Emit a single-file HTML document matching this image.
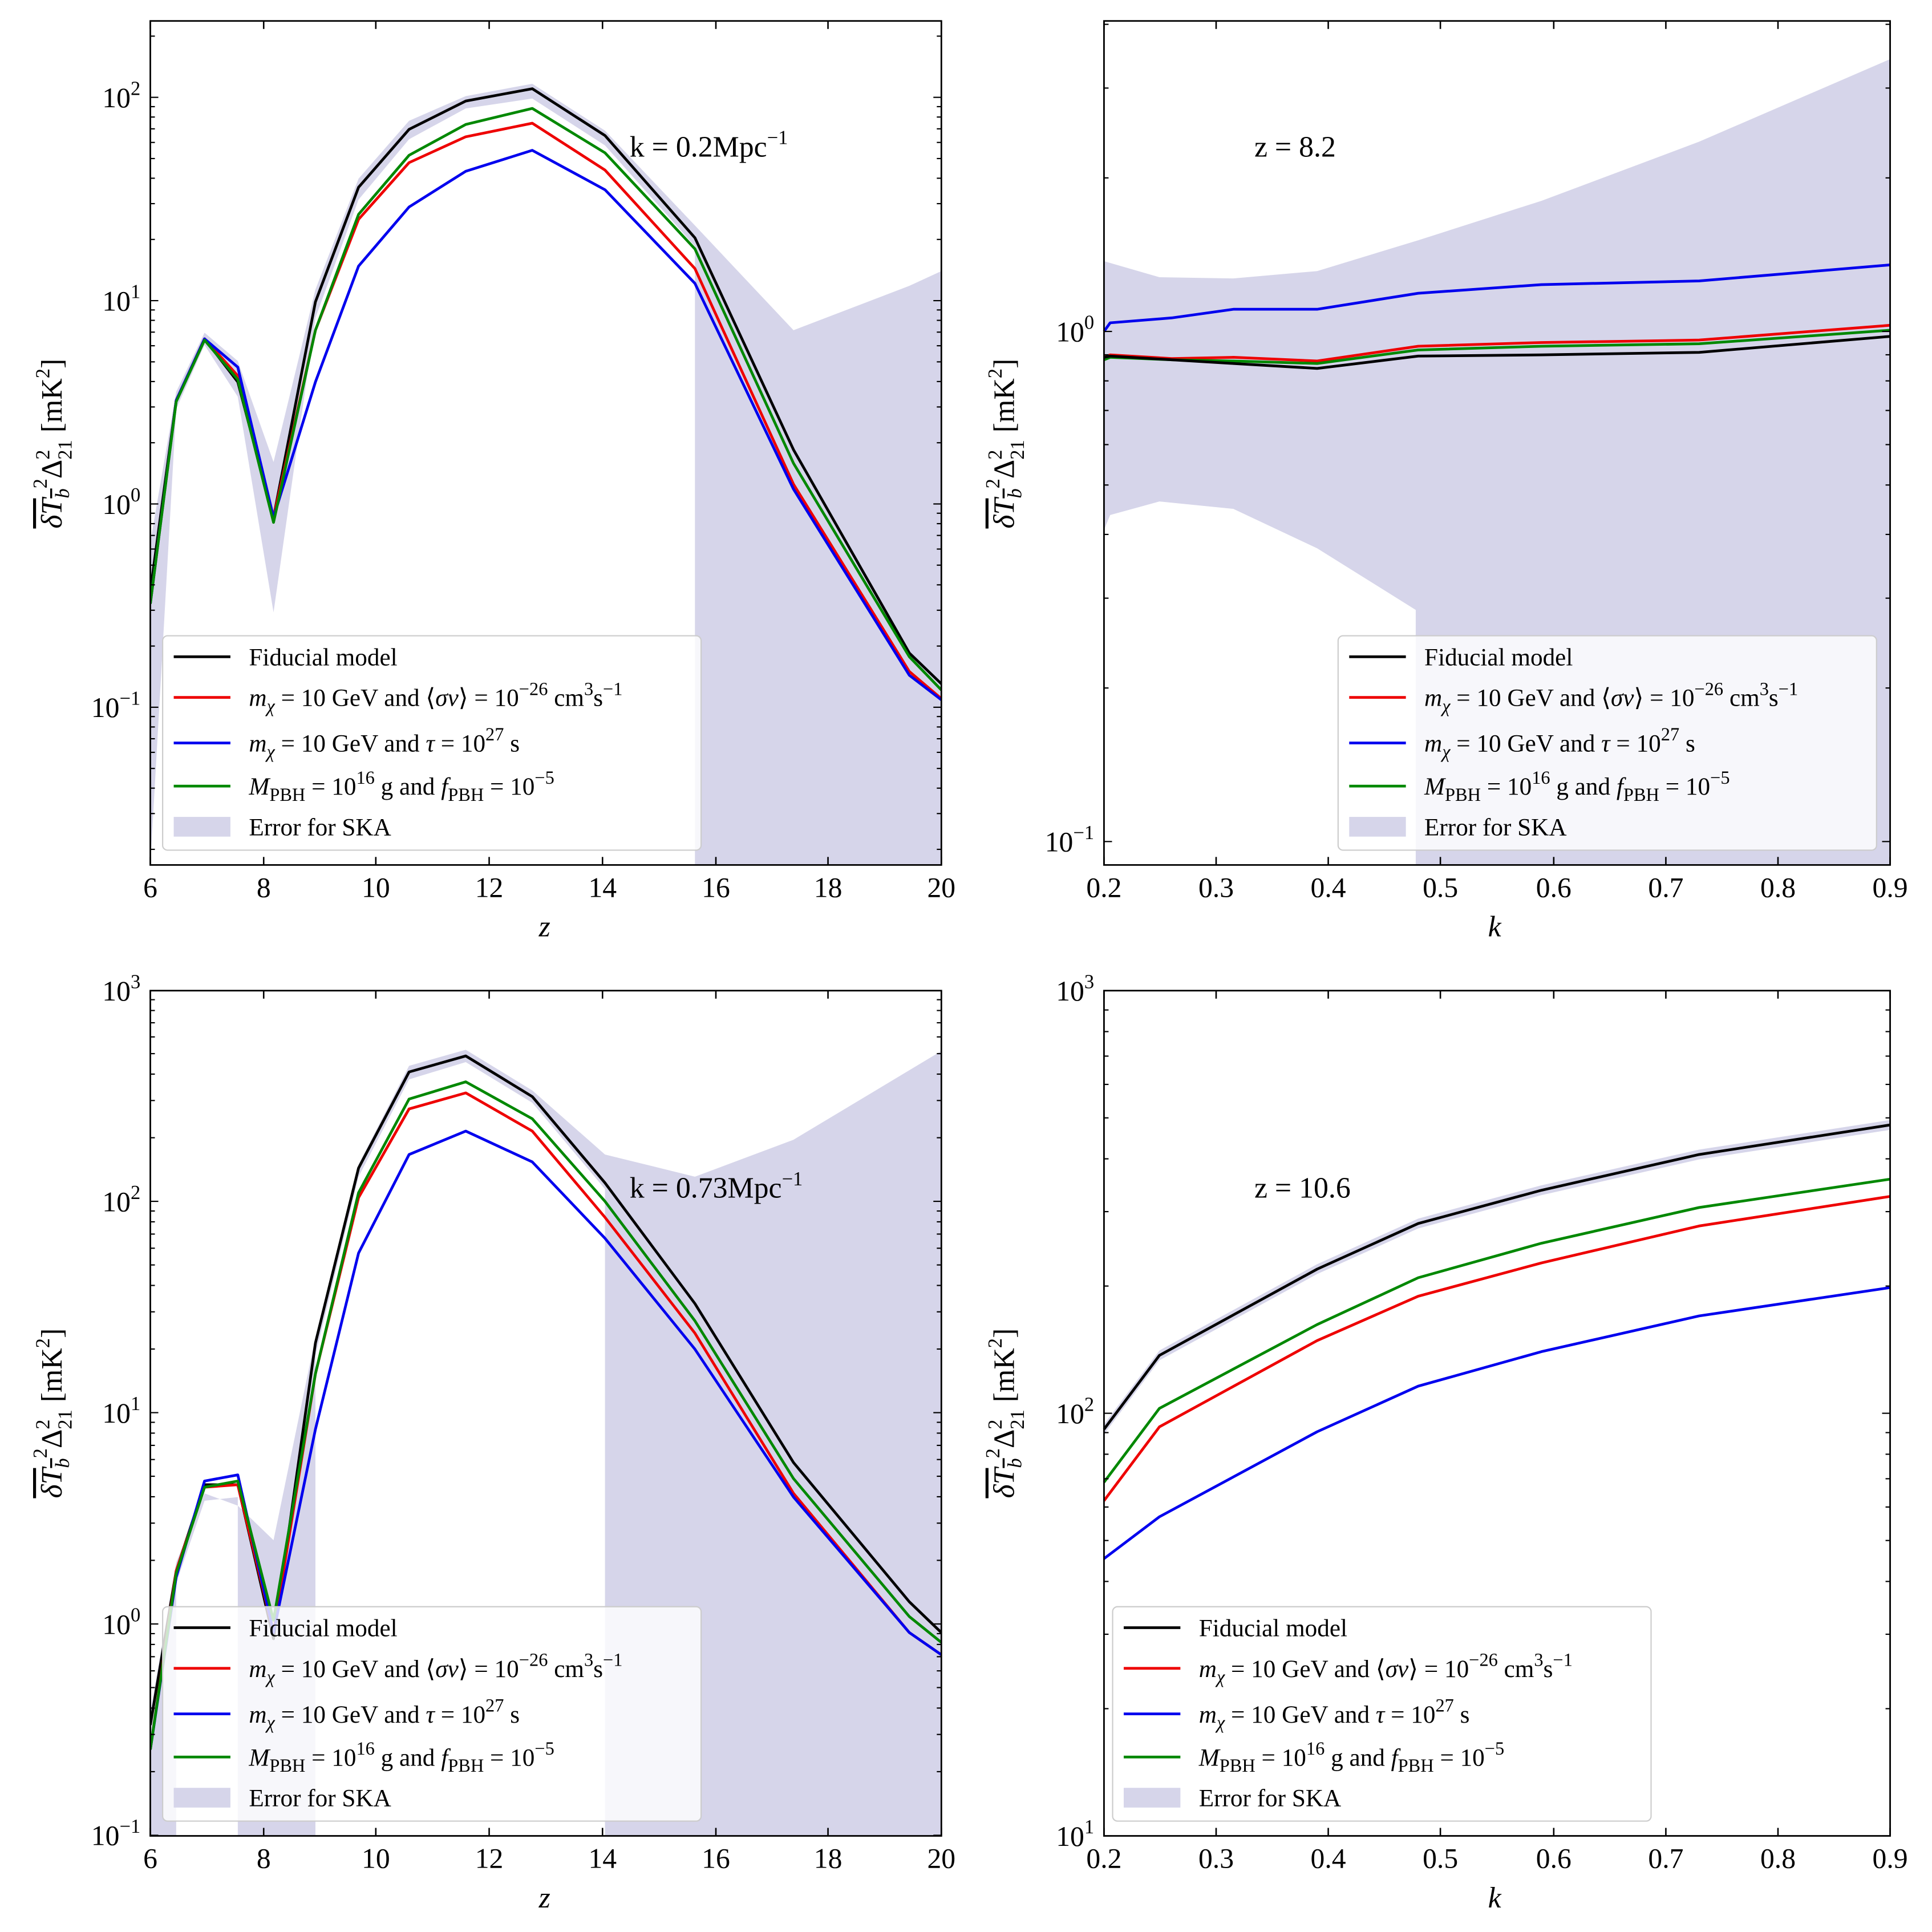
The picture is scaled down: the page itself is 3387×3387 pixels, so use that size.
<!DOCTYPE html>
<html><head><meta charset="utf-8"><style>
html,body{margin:0;padding:0;background:#fff}
svg{display:block}
text{font-family:"Liberation Serif","DejaVu Serif",serif;fill:#000}
</style></head><body>
<svg id="s" xmlns="http://www.w3.org/2000/svg" width="3387" height="3387" viewBox="0 0 1568 1568"></svg>
<script>
const S=document.getElementById('s');let h='';
function pl(pts,c,w){return `<polyline points="${pts.map(p=>p.join(',')).join(' ')}" fill="none" stroke="${c}" stroke-width="${w}" stroke-linejoin="round"/>`;}
function pg(pts){return `<polygon points="${pts.map(p=>p.join(',')).join(' ')}" fill="#d6d5ea" stroke="none"/>`;}
function panel(x0,y0,x1,y1,xt,yt,ylog){
 let o='';
 xt.forEach(t=>{o+=`<line x1="${t[0]}" y1="${y1}" x2="${t[0]}" y2="${y1-6.5}" stroke="#000" stroke-width="1.2"/><line x1="${t[0]}" y1="${y0}" x2="${t[0]}" y2="${y0+6.5}" stroke="#000" stroke-width="1.2"/>`;
  o+=`<text x="${t[0]}" y="${y1+26}" font-size="23" text-anchor="middle">${t[1]}</text>`;});
 const pd=ylog.pd, ref=ylog.ref, refExp=ylog.exp;
 for(let e=-4;e<5;e++){for(let m=1;m<10;m++){let py=ref-(e-refExp+Math.log10(m))*pd; if(py<y0-1.5||py>y1+1.5)continue;
  py=Math.min(Math.max(py,y0),y1);
  const L=m==1?6.5:3.7;
  o+=`<line x1="${x0}" y1="${py}" x2="${x0+L}" y2="${py}" stroke="#000" stroke-width="1"/><line x1="${x1}" y1="${py}" x2="${x1-L}" y2="${py}" stroke="#000" stroke-width="1"/>`;
  if(m==1)o+=`<text x="${x0-8}" y="${py+8}" font-size="23" text-anchor="end">10<tspan dy="-10" font-size="16">${e<0?'−'+(-e):e}</tspan></text>`;}}
 o+=`<rect x="${x0}" y="${y0}" width="${x1-x0}" height="${y1-y0}" fill="none" stroke="#000" stroke-width="1.3"/>`;
 return o;}
function ylabel(x,cy){return `<text transform="translate(${x},${cy}) rotate(-90)" font-size="24" text-anchor="middle"><tspan font-style="italic" text-decoration="overline">δT<tspan font-size="16" dy="6">b</tspan></tspan><tspan font-size="16" dy="-18">2</tspan><tspan dy="12">Δ</tspan><tspan font-size="16" dy="-10">2</tspan><tspan font-size="16" dx="-8" dy="18">21</tspan><tspan dy="-8"> [mK</tspan><tspan font-size="16" dy="-10">2</tspan><tspan dy="10">]</tspan></text>`;}
function legend(x,y){
 let o=`<rect x="${x}" y="${y}" width="437" height="174" rx="4" fill="#fff" fill-opacity="0.8" stroke="#ccc" stroke-width="1"/>`;
 const rows=[['#000','Fiducial model',17],['#e00','<tspan font-style="italic">m<tspan font-size="15" dy="5">χ</tspan></tspan><tspan dy="-5"> = 10 GeV and ⟨</tspan><tspan font-style="italic">σv</tspan>⟩ = 10<tspan font-size="15" dy="-9">−26</tspan><tspan dy="9"> cm</tspan><tspan font-size="15" dy="-9">3</tspan><tspan dy="9">s</tspan><tspan font-size="15" dy="-9">−1</tspan>',50],
 ['#00e','<tspan font-style="italic">m<tspan font-size="15" dy="5">χ</tspan></tspan><tspan dy="-5"> = 10 GeV and </tspan><tspan font-style="italic">τ</tspan> = 10<tspan font-size="15" dy="-9">27</tspan><tspan dy="9"> s</tspan>',87],
 ['#080','<tspan font-style="italic">M</tspan><tspan font-size="15" dy="5">PBH</tspan><tspan dy="-5"> = 10</tspan><tspan font-size="15" dy="-9">16</tspan><tspan dy="9"> g and </tspan><tspan font-style="italic">f</tspan><tspan font-size="15" dy="5">PBH</tspan><tspan dy="-5"> = 10</tspan><tspan font-size="15" dy="-9">−5</tspan>',122]];
 rows.forEach(r=>{o+=`<line x1="${x+9}" x2="${x+55}" y1="${y+r[2]}" y2="${y+r[2]}" stroke="${r[0]}" stroke-width="2.2"/><text x="${x+70}" y="${y+r[2]+7}" font-size="20">${r[1]}</text>`;});
 o+=`<rect x="${x+9}" y="${y+147}" width="46" height="16" fill="#d6d5ea"/><text x="${x+70}" y="${y+162}" font-size="20">Error for SKA</text>`;
 return o;}
const zx=[122,143,166,193,222,256,291,332,378,432,491,564,644,738,764];
const zt=[[122,6],[214,8],[305,10],[397,12],[489,14],[581,16],[672,18],[764,20]];
const kx=[896,901,951,1001,1069,1151,1251,1379,1534];
const kt=[[896,'0.2'],[987,'0.3'],[1078,'0.4'],[1169,'0.5'],[1261,'0.6'],[1352,'0.7'],[1443,'0.8'],[1534,'0.9']];
const Z=a=>a.map((v,i)=>[zx[i],v]);
h+=`<svg x="0" y="0" width="1568" height="1568"><clipPath id="c1"><rect x="122" y="17" width="642" height="685"/></clipPath></svg>`;
h+=`<g clip-path="url(#c1)">`+pg([[122,440],[143,318],[166,270],[193,293],[222,375],[256,235],[291,145],[332,98],[378,78],[432,68],[491,106],[564,183],[644,268],[738,232],[764,220],[764,702],[564,702],[564,200],[491,118],[432,80],[378,88],[332,113],[291,162],[256,258],[222,497],[193,322],[166,280],[143,332],[122,702]])+
pl(Z([480,325,275,310,420,245,152,105,82,72,110,193,365,530,555]),'#000',2.2)+
pl(Z([490,325,275,305,420,268,178,132,111,100,138,218,393,545,567]),'#e00',2.2)+
pl(Z([490,325,275,298,420,310,216,168,139,122,154,230,397,548,568]),'#00e',2.2)+
pl(Z([490,326,276,308,424,268,174,126,101,88,124,202,376,533,560]),'#080',2.2)+`</g>`;
h+=panel(122,17,764,702,zt,0,{pd:165,ref:409,exp:0});
h+=legend(132,516)+`<text x="511" y="127" font-size="24">k = 0.2Mpc<tspan font-size="16" dy="-10">−1</tspan></text>`+ylabel(50,360)+`<text x="442" y="760" font-size="24" font-style="italic" text-anchor="middle">z</text>`;
const K=a=>a.map((v,i)=>[kx[i],v]);
h+=pg([[896,212],[941,225],[1001,226],[1069,220],[1151,195],[1251,163],[1379,115],[1534,48],[1534,702],[1149,702],[1149,495],[1069,445],[1001,413],[941,407],[901,418],[896,430]])+
pl(K([269,262,258,251,251,238,231,228,215]),'#00e',2.2)+pl(K([290,288,291,290,293,281,278,276,264]),'#e00',2.2)+
pl(K([292,290,292,293,295,284,281,279,268]),'#080',2.2)+pl(K([290,289,292,295,299,289,288,286,273]),'#000',2.2);
h+=panel(896,17,1534,702,kt,0,{pd:414,ref:269,exp:0});
h+=legend(1086,516)+`<text x="1018" y="127" font-size="24">z = 8.2</text>`+ylabel(823,360)+`<text x="1213" y="760" font-size="24" font-style="italic" text-anchor="middle">k</text>`;
h+=`<svg width="1568" height="1568"><clipPath id="c3"><rect x="122" y="804" width="642" height="686"/></clipPath></svg><g clip-path="url(#c3)">`+
pg([[122,1390],[143,1268],[166,1212],[193,1222],[222,1250],[256,1085],[291,945],[332,865],[378,852],[432,885],[491,937],[564,955],[644,925],[764,853],[764,1490],[491,1490],[491,965],[432,895],[378,862],[332,876],[291,955],[256,1100],[256,1490],[193,1490],[193,1215],[166,1218],[143,1285],[143,1490],[122,1490]])+
pl(Z([1400,1275,1205,1205,1330,1090,948,870,857,890,960,1058,1187,1300,1325]),'#000',2.2)+
pl(Z([1420,1275,1207,1205,1325,1115,972,900,887,918,988,1082,1212,1325,1343]),'#e00',2.2)+
pl(Z([1420,1280,1202,1197,1325,1160,1017,937,918,943,1005,1095,1215,1325,1343]),'#00e',2.2)+
pl(Z([1420,1277,1207,1202,1315,1115,968,892,878,908,975,1072,1200,1312,1333]),'#080',2.2)+`</g>`;
h+=panel(122,804,764,1490,zt,0,{pd:171.5,ref:1318,exp:0});
h+=legend(132,1304)+`<text x="511" y="972" font-size="24">k = 0.73Mpc<tspan font-size="16" dy="-10">−1</tspan></text>`+ylabel(50,1147)+`<text x="442" y="1548" font-size="24" font-style="italic" text-anchor="middle">z</text>`;
const bx=[896,941,1069,1151,1251,1379,1534];
const B=a=>a.map((v,i)=>[bx[i],v]);
const blk=[1160,1100,1030,993,966,937,913];
h+=pg(B(blk.map(v=>v-4)).concat(B(blk.map(v=>v+4)).reverse()))+
pl(B([1218,1158,1088,1052,1025,995,971]),'#e00',2.2)+pl(B([1203,1143,1075,1037,1009,980,957]),'#080',2.2)+
pl(B([1265,1231,1162,1125,1097,1068,1045]),'#00e',2.2)+pl(B(blk),'#000',2.2);
h+=panel(896,804,1534,1490,kt,0,{pd:343,ref:1147,exp:2});
h+=legend(903,1304)+`<text x="1018" y="972" font-size="24">z = 10.6</text>`+ylabel(823,1147)+`<text x="1213" y="1548" font-size="24" font-style="italic" text-anchor="middle">k</text>`;
S.innerHTML=h;
</script>
</body></html>
